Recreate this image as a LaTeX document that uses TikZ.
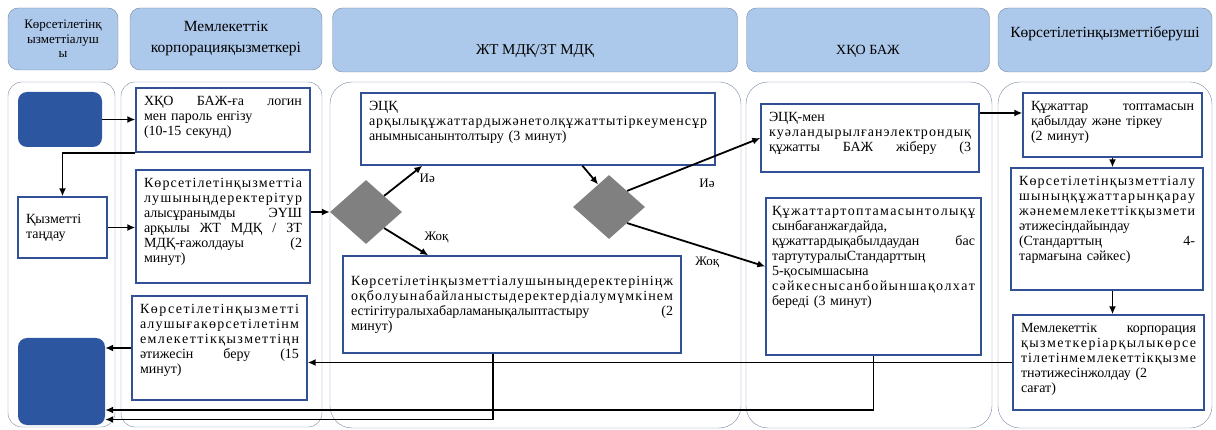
\documentclass[tikz,border=0pt]{standalone}
\usepackage{fontspec}
\setmainfont{Liberation Serif}
\usetikzlibrary{arrows.meta,positioning,shapes.geometric,calc}
\definecolor{hdblue}{RGB}{172,200,234}
\definecolor{laneline}{RGB}{120,136,164}
\definecolor{boxline}{RGB}{50,80,150}
\definecolor{termblue}{RGB}{44,86,160}
\definecolor{decgray}{RGB}{128,128,128}
% spread the letters of a line with no spaces over the whole width
\newcommand\fillw[1]{\makebox[\linewidth][s]{\fillwx#1\fillwend}}
\def\fillwx#1{\ifx#1\fillwend\unskip\else#1\hskip0pt plus 1fil\relax\expandafter\fillwx\fi}
\let\fillwend\relax

\begin{document}
\begin{tikzpicture}[x=1pt,y=-1pt,font=\fontsize{14}{15}\selectfont,
   hd/.style={draw=laneline,fill=hdblue,rounded corners=10pt,align=center,inner sep=2pt},
   lane/.style={draw=laneline,rounded corners=22pt},
   blk/.style={draw=boxline,line width=1.3pt,fill=white,align=left,inner xsep=8pt,inner ysep=8pt},
   hb/.style={minimum height=#1,text depth=#1-25.5pt},
   term/.style={fill=termblue,rounded corners=9pt},
   dec/.style={diamond,fill=decgray,minimum width=72pt,minimum height=64pt,inner sep=0pt},
   arr/.style={-{Latex[length=8pt,width=7pt]},line width=1.8pt},
   lbl/.style={font=\fontsize{13}{14}\selectfont}]
  \useasboundingbox (0,0) rectangle (1216,430);
  \draw[lane,rounded corners=14pt] (8,82) rectangle (115,427);
  \draw[lane,rounded corners=14pt] (121,82) rectangle (322,427);
  \draw[lane] (330,82) rectangle (741,428);
  \draw[lane] (746,82) rectangle (992,428);
  \draw[lane] (998,82) rectangle (1212,428);
  \node[hd,minimum width=110pt,minimum height=62pt,font=\fontsize{13}{14.5}\selectfont] (h1) at (63,39)
       {Көрсетілетінқ\\ызметтіалуш\\ы};
  \node[hd,minimum width=192pt,minimum height=62pt,font=\fontsize{15.5}{21}\selectfont] (h2) at (226,39)
       {Мемлекеттік\\корпорацияқызметкері};
  \node[hd,minimum width=405pt,minimum height=64pt,font=\fontsize{15}{16}\selectfont,
        text height=33pt,text depth=3pt] (h3) at (535,40) {ЖТ МДҚ/ЗТ МДҚ};
  \node[hd,minimum width=243pt,minimum height=64pt,text height=33pt,text depth=3pt] (h4) at (868,40) {ХҚО БАЖ};
  \node[hd,minimum width=214pt,minimum height=64pt,font=\fontsize{15.5}{16}\selectfont,
        text height=6pt,text depth=10pt] (h5) at (1105,40) {Көрсетілетінқызметтіберуші};
  \node[term,minimum width=84pt,minimum height=55pt] (start) at (60,119.5) {};
  \node[term,minimum width=87pt,minimum height=87pt] (stop) at (61.5,381.5) {};
  \node[blk,text width=73pt,minimum height=61pt] (sel) at (62.5,227.5) {Қызметті\\таңдау};
  \node[blk,text width=158pt,hb=64pt] (login) at (223,120)
       {ХҚО\hfill БАЖ-ға\hfill логин\\мен пароль енгізу\\(10-15 секунд)};
  \node[blk,text width=158pt,hb=113pt] (req) at (223,226.5)
       {\fillw{Көрсетілетінқызметтіа}\\\fillw{лушыныңдеректерітур}\\алысұранымды\hfill ЭҮШ\\
        арқылы\hfill ЖТ\hfill МДҚ\hfill /\hfill ЗТ\\МДҚ-ғажолдауы\hfill (2\\минут)};
  \node[blk,text width=159pt,hb=104pt] (res) at (219.5,348)
       {\fillw{Көрсетілетінқызметті}\\\fillw{алушығакөрсетілетінм}\\\fillw{емлекеттікқызметтіңн}\\
        әтижесін\hfill беру\hfill (15\\минут)};
  \node[blk,text width=338pt,hb=72pt] (ecq) at (538,129)
       {ЭЦҚ\\\fillw{арқылықұжаттардыжәнетолқұжаттытіркеуменсұр}\\анымнысанынтолтыру (3 минут)};
  \node[dec] (d1) at (366,212) {};
  \node[dec] (d2) at (609,207) {};
  \node[blk,text width=322pt,minimum height=97pt] (rej) at (512,304.5)
       {\fillw{Көрсетілетінқызметтіалушыныңдеректерініңж}\\\fillw{оқболуынабайланыстыдеректердіалумүмкінем}\\
        естігітуралыхабарламанықалыптастыру\hfill (2\\минут)};
  \node[blk,text width=202pt,hb=68pt] (send1) at (870,138)
       {ЭЦҚ-мен\\\fillw{куәландырылғанэлектрондық}\\құжатты\hfill БАЖ\hfill жіберу\hfill (3};
  \node[blk,inner xsep=6pt,text width=203pt,hb=157pt] (refuse) at (873.5,276.5)
       {\fillw{Құжаттартоптамасынтолықұ}\\сынбағанжағдайда,\\құжаттардықабылдаудан\hfill бас\\
        тартутуралыСтандарттың\\5-қосымшасына\\\fillw{сәйкеснысанбойыншақолхат}\\береді (3 минут)};
  \node[blk,text width=163pt,hb=64pt] (acc) at (1112.5,125)
       {Құжаттар\hfill топтамасын\\қабылдау және тіркеу\\(2 минут)};
  \node[blk,text width=176pt,hb=122pt] (rev) at (1107,229)
       {\fillw{Көрсетілетінқызметтіалу}\\\fillw{шыныңқұжаттарынқарау}\\\fillw{жәнемемлекеттікқызмети}\\
        әтижесіндайындау\\(Стандарттың\hfill 4-\\тармағына сәйкес)};
  \node[blk,text width=175pt,hb=95pt] (snd) at (1108.5,362.5)
       {Мемлекеттік\hfill корпорация\\\fillw{қызметкеріарқылыкөрсе}\\\fillw{тілетінмемлекеттікқызме}\\
        тнәтижесінжолдау (2\\сағат)};
  \draw[arr] (start.east) -- (start.east -| login.west);
  \draw[arr] (login.south west) -| (sel.north);
  \draw[arr] (sel.east) -- (sel.east -| req.west);
  \draw[arr] (d1.west -| req.east) -- (d1.west);
  \draw[arr] (d1.north east) -- node[lbl,pos=0.45,xshift=26pt,yshift=4pt] {Иә} ([xshift=62pt]ecq.south west);
  \draw[arr] (d1.south east) -- node[lbl,pos=0.55,xshift=28pt,yshift=6pt] {Жоқ} ([xshift=86pt]rej.north west);
  \draw[arr] ([xshift=222pt]ecq.south west) -- ($(d2.north)!0.3!(d2.west)$);
  \draw[arr] (d2.north east) -- node[lbl,pos=0.6,yshift=-24pt] {Иә} (send1.west);
  \draw[arr] (d2.south east) -- node[lbl,pos=0.58,yshift=-14pt] {Жоқ} ([yshift=10pt]refuse.west);
  \draw[arr] ([yshift=25pt]send1.east) -- ([yshift=12pt]acc.west);
  \draw[arr] (acc.south) -- (acc.south |- rev.north);
  \draw[arr] (acc.south |- rev.south) -- (acc.south |- snd.north);
  \draw[arr] (snd.west) -- (snd.west -| res.east);
  \draw[arr] (res.west) -- (res.west -| stop.east);
  \draw[arr] (refuse.south) |- ([yshift=-28.5pt]stop.east);
  \draw[arr] ([xshift=-19pt]rej.south) |- ([yshift=-38pt]stop.east);
\end{tikzpicture}
\end{document}
